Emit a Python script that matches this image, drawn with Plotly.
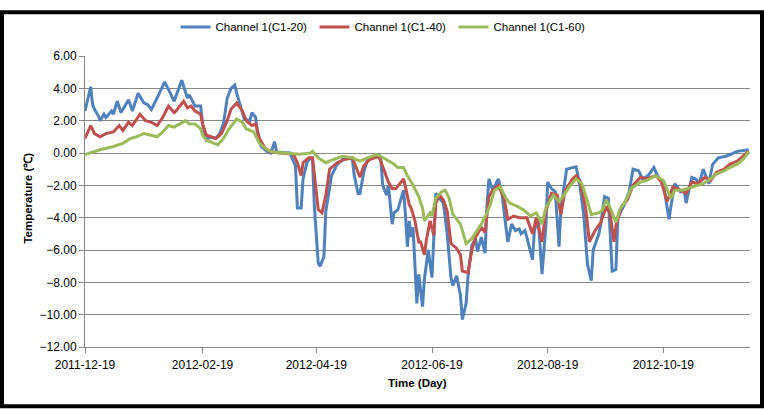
import pandas as pd
import plotly.graph_objects as go

START = "2011-12-19"
END_DAYS = 350.7

series_names = ["Channel 1(C1-20)", "Channel 1(C1-40)", "Channel 1(C1-60)"]
series_colors = ["#4F81BD", "#C0504D", "#9BBB59"]

tick_labels = ["2011-12-19", "2012-02-19", "2012-04-19", "2012-06-19", "2012-08-19", "2012-10-19"]
y_ticks = [6, 4, 2, 0, -2, -4, -6, -8, -10, -12]

# days since 2011-12-19 / temperature (degC)
c20_days = [0, 2, 3, 4, 5, 7, 8, 10, 11, 14, 15, 17, 19, 23, 25, 28, 31, 33, 35, 38,
            42, 45, 47, 51, 54, 55, 58, 61, 62, 64, 66, 69, 71, 73, 75, 77, 79, 80, 82, 84,
            87, 88, 90, 91, 93, 96, 98, 100, 101, 105, 108, 111, 112, 114, 115, 117, 119, 120, 121, 123,
            124, 126, 127, 130, 133, 136, 139, 141, 142, 144, 145, 147, 149, 152, 155, 156, 157, 159, 160, 162,
            163, 165, 166, 168, 169, 170, 171, 172, 173, 175, 176, 178, 179, 181, 183, 184, 185, 187, 189, 191,
            193, 194, 196, 198, 199, 201, 202, 204, 206, 207, 209, 211, 212, 213, 215, 218, 220, 222, 223, 225,
            227, 229, 230, 232, 233, 236, 237, 239, 241, 243, 244, 246, 248, 250, 251, 254, 257, 259, 261, 263,
            265, 267, 268, 271, 272, 274, 276, 277, 278, 280, 281, 284, 287, 289, 292, 294, 297, 300, 302, 305,
            307, 308, 309, 311, 314, 316, 317, 320, 322, 324, 326, 329, 331, 334, 338, 344, 350]
c20_vals = [2.6, 3.6, 4.1, 3.0, 2.7, 2.3, 2.0, 2.4, 2.2, 2.6, 2.4, 3.2, 2.5, 3.3, 2.6, 3.7, 3.1, 3.0, 2.7, 3.4,
            4.4, 3.7, 3.2, 4.5, 3.4, 3.6, 2.9, 2.9, 1.8, 0.8, 1.0, 0.9, 1.2, 1.8, 3.4, 4.0, 4.2, 3.7, 2.9, 2.1,
            2.0, 2.5, 2.2, 1.2, 0.4, 0.1, 0.0, 0.7, 0.06, 0.0, 0.0, -0.8, -3.4, -3.4, -1.6, -0.6, -0.3, -0.4, -3.4, -6.8,
            -7.0, -6.4, -3.6, -1.4, -0.7, -0.4, -0.3, -0.4, -1.4, -2.5, -2.5, -1.2, -0.4, -0.3, -0.1, -0.4, -2.0, -2.6, -2.0, -4.4,
            -3.7, -3.5, -3.1, -2.3, -3.8, -5.8, -4.2, -5.2, -4.6, -9.3, -7.5, -9.5, -7.8, -6.0, -7.7, -5.2, -2.5, -2.8, -3.1, -5.0,
            -7.7, -8.2, -7.6, -8.8, -10.3, -9.3, -7.6, -5.7, -5.3, -6.1, -5.2, -6.2, -3.2, -1.6, -2.3, -1.6, -2.6, -4.6, -5.5, -4.4,
            -4.8, -4.7, -5.0, -4.8, -5.2, -6.6, -4.8, -4.0, -7.5, -4.6, -1.8, -2.2, -2.4, -5.8, -3.4, -1.0, -0.9, -0.85, -2.0, -3.8,
            -6.9, -7.9, -6.0, -5.0, -4.4, -2.7, -2.8, -4.8, -7.3, -7.2, -4.0, -3.3, -2.4, -1.0, -1.1, -1.6, -1.4, -0.9, -1.4, -1.9,
            -3.2, -4.1, -3.3, -1.9, -2.4, -2.3, -3.1, -1.5, -1.6, -1.9, -1.0, -1.9, -0.7, -0.3, -0.2, 0.1, 0.2]

c40_days = [0, 3, 5, 8, 11, 15, 18, 20, 23, 25, 29, 32, 35, 38, 41, 44, 47, 48, 52, 54,
            56, 58, 61, 62, 64, 67, 69, 72, 75, 77, 80, 83, 85, 88, 90, 92, 95, 98, 103, 110,
            112, 114, 115, 118, 120, 121, 123, 125, 127, 129, 133, 137, 141, 142, 145, 147, 150, 155, 157, 160,
            162, 164, 166, 168, 169, 171, 172, 174, 176, 177, 179, 180, 182, 184, 185, 187, 189, 191, 193, 196,
            198, 199, 202, 204, 205, 206, 209, 211, 213, 215, 218, 221, 223, 226, 229, 233, 236, 238, 241, 243,
            246, 249, 251, 253, 257, 259, 261, 264, 266, 269, 272, 275, 277, 279, 280, 283, 286, 289, 293, 296,
            301, 304, 307, 310, 314, 317, 320, 323, 327, 330, 333, 337, 340, 344, 347, 350]
c40_vals = [0.9, 1.7, 1.2, 1.0, 1.2, 1.3, 1.7, 1.4, 1.9, 1.7, 2.4, 2.0, 1.9, 1.7, 2.2, 2.9, 2.5, 2.6, 3.2, 2.8,
            2.9, 2.6, 2.4, 1.8, 1.1, 1.0, 0.9, 1.2, 2.0, 2.7, 3.1, 2.6, 2.0, 1.7, 1.8, 0.9, 0.3, 0.06, 0.0, -0.08,
            -0.6, -1.4, -0.6, -0.3, -0.3, -1.4, -3.5, -3.7, -2.6, -1.0, -0.6, -0.4, -0.3, -0.6, -1.5, -0.8, -0.4, -0.2, -0.8, -1.8,
            -2.2, -2.2, -1.9, -1.6, -2.1, -3.2, -3.4, -4.2, -5.5, -5.5, -6.3, -5.4, -4.2, -5.1, -3.1, -2.6, -2.9, -3.6, -5.6, -5.9,
            -6.3, -7.3, -7.4, -6.0, -5.6, -5.2, -4.6, -4.9, -2.7, -2.3, -2.0, -2.8, -4.1, -3.9, -4.0, -4.0, -5.0, -4.0, -5.5, -3.6,
            -2.5, -2.6, -3.8, -2.4, -1.6, -1.4, -1.7, -3.4, -5.5, -4.8, -4.3, -3.3, -3.8, -5.5, -4.5, -3.3, -2.9, -2.0, -1.5, -1.6,
            -1.4, -1.8, -3.0, -2.1, -2.3, -2.5, -1.8, -1.9, -1.5, -1.7, -1.2, -1.0, -0.7, -0.5, -0.2, 0.1]

c60_days = [0, 8, 15, 20, 24, 27, 31, 34, 38, 41, 44, 47, 50, 53, 55, 58, 61, 62, 64, 68,
            70, 73, 76, 80, 83, 85, 89, 92, 96, 99, 106, 113, 119, 120, 123, 127, 131, 136, 141, 145,
            149, 154, 156, 159, 163, 165, 168, 170, 173, 176, 178, 179, 182, 183, 185, 188, 190, 192, 194, 198,
            201, 204, 207, 209, 212, 214, 216, 219, 222, 224, 228, 231, 235, 238, 241, 243, 247, 250, 252, 256,
            259, 262, 265, 267, 271, 273, 275, 277, 280, 282, 285, 288, 293, 296, 301, 305, 309, 311, 315, 318,
            323, 326, 330, 333, 337, 340, 344, 347, 350]
c60_vals = [-0.1, 0.2, 0.4, 0.6, 0.9, 1.0, 1.2, 1.1, 1.0, 1.3, 1.7, 1.6, 1.8, 2.0, 1.8, 1.8, 1.5, 1.1, 0.8, 0.6,
            0.5, 0.9, 1.5, 2.1, 1.9, 1.5, 1.3, 0.6, 0.2, 0.06, 0.0, -0.08, 0.0, 0.1, -0.3, -0.6, -0.4, -0.2, -0.3, -0.5,
            -0.3, -0.1, -0.2, -0.4, -0.7, -0.9, -0.9, -1.4, -2.0, -2.7, -3.4, -4.2, -3.7, -3.9, -2.8, -2.4, -2.3, -2.8, -3.8, -4.4,
            -5.6, -5.3, -4.8, -4.4, -3.7, -3.1, -2.3, -2.1, -2.8, -3.1, -3.3, -3.5, -3.9, -3.7, -4.4, -3.4, -2.6, -3.0, -2.7, -2.0,
            -1.6, -1.9, -3.0, -3.8, -3.7, -3.5, -2.9, -3.4, -4.3, -3.5, -3.0, -2.2, -1.8, -1.7, -1.4, -1.7, -2.8, -2.3, -2.3, -2.2,
            -2.0, -1.9, -1.6, -1.3, -1.1, -0.9, -0.7, -0.4, 0.06]

start_ts = pd.Timestamp(START)


def to_dates(days):
    return [start_ts + pd.Timedelta(days=d) for d in days]


all_days = [c20_days, c40_days, c60_days]
all_vals = [c20_vals, c40_vals, c60_vals]

fig = go.Figure()
for name, color, d, v in zip(series_names, series_colors, all_days, all_vals):
    fig.add_trace(go.Scatter(x=to_dates(d), y=v, mode="lines", name=name,
                             line=dict(color=color, width=3)))

# layout geometry (pixels)
W, H = 764, 410
L, R, T, B = 85, 14, 47, 63
PW, PH = W - L - R, H - T - B


def px_x(p):
    return (p - L) / PW


def px_y(p):
    return (H - B - p) / PH


FONT = "Liberation Sans, Arial, sans-serif"
GRAY = "#868686"

fig.update_layout(
    width=W, height=H, autosize=False,
    margin=dict(l=L, r=R, t=T, b=B, pad=0),
    paper_bgcolor="white", plot_bgcolor="white",
    font=dict(family=FONT, size=12, color="#000000"),
    showlegend=True,
    legend=dict(orientation="h", x=px_x(384), y=px_y(17), xanchor="center", yanchor="middle",
                font=dict(size=11.5, color="#000000"), itemwidth=30,
                entrywidth=94, entrywidthmode="pixels",
                bgcolor="rgba(0,0,0,0)", tracegroupgap=0),
    xaxis=dict(type="date",
               range=[start_ts, start_ts + pd.Timedelta(days=END_DAYS)],
               tickvals=[pd.Timestamp(t) for t in tick_labels], ticktext=tick_labels,
               showgrid=False, zeroline=False,
               showline=True, linecolor=GRAY, linewidth=1,
               ticks="outside", ticklen=5, tickcolor=GRAY, ticklabelstandoff=2,
               tickfont=dict(size=12, color="#000000")),
    yaxis=dict(range=[-12, 6], tickvals=y_ticks, tickformat=".2f",
               showgrid=True, gridcolor=GRAY, gridwidth=1, zeroline=False,
               showline=True, linecolor=GRAY, linewidth=1,
               ticks="outside", ticklen=5, tickcolor=GRAY,
               tickfont=dict(size=12, color="#000000")),
    annotations=[
        dict(text="<b>Temperature (℃)</b>", xref="paper", yref="paper",
             x=px_x(28), y=px_y(194), textangle=-90, showarrow=False,
             xanchor="center", yanchor="middle", font=dict(size=11.5, color="#000000")),
        dict(text="<b>Time (Day)</b>", xref="paper", yref="paper",
             x=px_x(417), y=px_y(384), showarrow=False,
             xanchor="center", yanchor="middle", font=dict(size=11.5, color="#000000")),
    ],
    shapes=[dict(type="rect", xref="paper", yref="paper",
                 x0=px_x(2), x1=px_x(W - 2), y0=px_y(H - 2), y1=px_y(2),
                 line=dict(color="#000000", width=4), fillcolor="rgba(0,0,0,0)", layer="above")],
)

fig.write_html("out.html")
